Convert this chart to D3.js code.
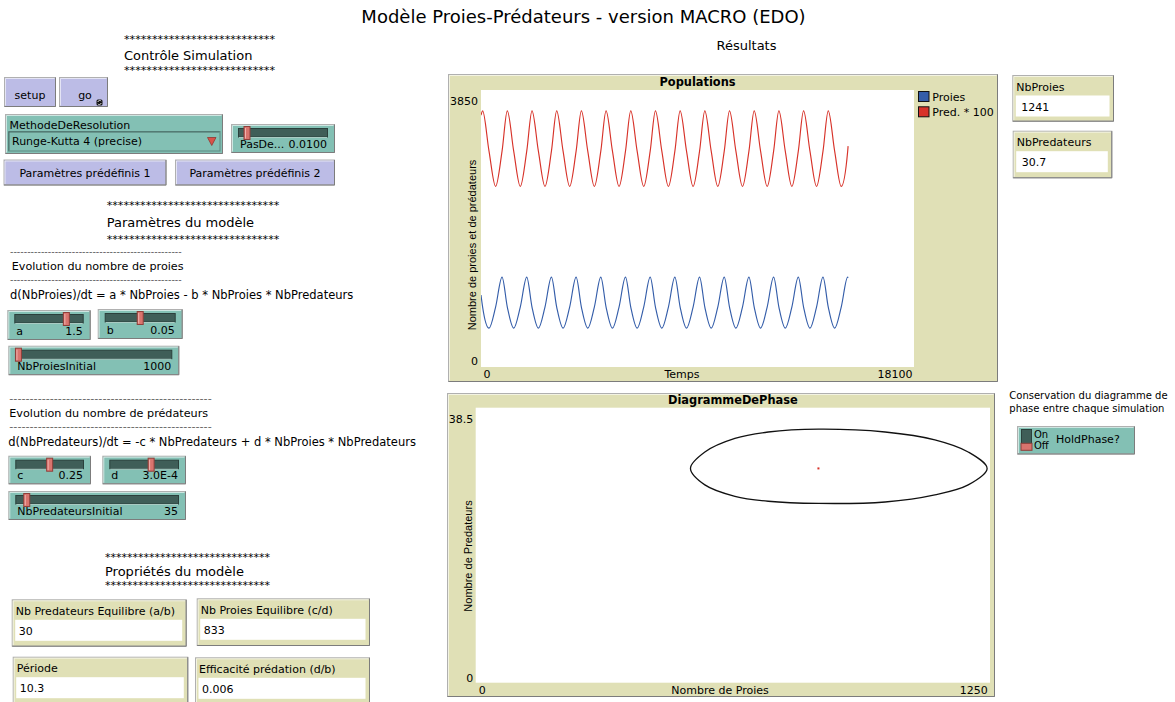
<!DOCTYPE html>
<html><head><meta charset="utf-8">
<script src="https://cdn.jsdelivr.net/npm/d3@7"></script>
<style>
body{margin:0;background:#fff;}
svg{display:block;font-family:"DejaVu Sans",sans-serif;}
</style>
</head><body>
<svg id="c" width="1175" height="702"></svg>
<script>
// ---------------- DATA ----------------
// Populations plot: time (ticks) of the readable turning points / crossings
const temps = [0, 68, 335, 610, 880, 1100, 1367, 1642, 1912, 2132, 2399, 2674, 2944,
  3164, 3431, 3706, 3976, 4196, 4463, 4738, 5008, 5228, 5495, 5770, 6040,
  6260, 6527, 6802, 7072, 7292, 7559, 7834, 8104, 8324, 8591, 8866, 9136,
  9356, 9623, 9898, 10168, 10388, 10655, 10930, 11200, 11420, 11687, 11962, 12232,
  12452, 12719, 12994, 13264, 13484, 13751, 14026, 14296, 14516, 14783, 15058, 15328, 15345];
const proies = [1000, 833, 540, 833, 1250, 833, 540, 833, 1250, 833, 540, 833, 1250,
  833, 540, 833, 1250, 833, 540, 833, 1250, 833, 540, 833, 1250,
  833, 540, 833, 1250, 833, 540, 833, 1250, 833, 540, 833, 1250,
  833, 540, 833, 1250, 833, 540, 833, 1250, 833, 540, 833, 1250,
  833, 540, 833, 1250, 833, 540, 833, 1250, 833, 540, 833, 1250, 1241];
const predX100 = [3500, 3560, 3000, 2510, 3000, 3560, 3000, 2510, 3000, 3560, 3000, 2510, 3000,
  3560, 3000, 2510, 3000, 3560, 3000, 2510, 3000, 3560, 3000, 2510, 3000,
  3560, 3000, 2510, 3000, 3560, 3000, 2510, 3000, 3560, 3000, 2510, 3000,
  3560, 3000, 2510, 3000, 3560, 3000, 2510, 3000, 3560, 3000, 2510, 3000,
  3560, 3000, 2510, 3000, 3560, 3000, 2510, 3000, 3560, 3000, 2510, 3000, 3070];
const legende = ["Proies", "Pred. * 100"];
const popXDomain = [0, 18100];
const popYDomain = [0, 3850];

// Phase diagram: points on the closed orbit (prey, predators)
const phaseProies = [522, 557, 630, 711, 833, 995, 1116, 1197, 1243, 1197, 1116, 995, 833, 711, 630, 557];
const phasePred   = [30.0, 32.3, 34.2, 35.1, 35.5, 35.1, 34.0, 32.3, 30.0, 27.7, 26.3, 25.3, 25.1, 25.4, 26.1, 27.7];
const equilibre = [833, 30];
const phaseXDomain = [0, 1250];
const phaseYDomain = [0, 38.5];

// Widgets
const monitorLabels = ["NbProies", "NbPredateurs", "Nb Predateurs Equilibre (a/b)", "Nb Proies Equilibre (c/d)", "Période", "Efficacité prédation (d/b)"];
const monitorValues = ["1241", "30.7", "30", "833", "10.3", "0.006"];
const sliderLabels = ["PasDe...", "a", "b", "NbProiesInitial", "c", "d", "NbPredateursInitial"];
const sliderTexts  = ["0.0100", "1.5", "0.05", "1000", "0.25", "3.0E-4", "35"];
const sliderValues = [0.01, 1.5, 0.05, 1000, 0.25, 0.0003, 35];
const sliderMax    = [0.1, 2, 0.1, 50000, 0.5, 0.0005, 500];

// ---------------- DRAWING ----------------
const svg = d3.select("#c");
const BEIGE = "#e0e0b6", TEAL = "#83c0b4", LAV = "#bcbce6";
const RED = "rgb(215,50,41)", BLUE = "rgb(52,93,169)";

function text(x, y, s, o = {}) {
  const t = svg.append("text").attr("x", x).attr("y", y).text(s)
    .attr("font-size", o.size || 11).attr("fill", o.fill || "#000");
  if (o.anchor) t.attr("text-anchor", o.anchor);
  if (o.weight) t.attr("font-weight", o.weight);
  if (o.family) t.attr("font-family", o.family);
  if (o.len) t.attr("textLength", o.len).attr("lengthAdjust", "spacingAndGlyphs");
  return t;
}
function frame(x, y, w, h, fill) {
  svg.append("rect").attr("x", x + 0.5).attr("y", y + 0.5).attr("width", w - 1).attr("height", h - 1)
    .attr("fill", fill).attr("stroke", "#b0b0b0");
  svg.append("path").attr("d", `M${x + 1.5},${y + h - 1.5}V${y + 1.5}H${x + w - 1.5}`)
    .attr("fill", "none").attr("stroke", "#fff").attr("stroke-opacity", 0.6);
  svg.append("path").attr("d", `M${x + w - 0.5},${y + 0.5}V${y + h - 0.5}H${x + 0.5}`)
    .attr("fill", "none").attr("stroke", "#7c7c7c");
}
function button(x, y, w, h, label, cx) {
  frame(x, y, w, h, LAV);
  text(cx !== undefined ? cx : x + w / 2, y + h - 8.5, label, { anchor: "middle" });
}
function slider(i, x, y, w, h) {
  frame(x, y, w, h, TEAL);
  const tx = x + 7, tw = w - 14;
  svg.append("rect").attr("x", tx + 0.5).attr("y", y + 4.5).attr("width", tw - 1).attr("height", 8.5)
    .attr("fill", "#3f5e58").attr("stroke", "#2b403c");
  svg.append("line").attr("x1", tx + 1).attr("x2", tx + tw - 1).attr("y1", y + 13.5).attr("y2", y + 13.5)
    .attr("stroke", "#a9cbc3");
  const cx = tx + (sliderValues[i] / sliderMax[i]) * tw;
  svg.append("rect").attr("x", cx - 3).attr("y", y + 2.5).attr("width", 6).attr("height", 13)
    .attr("fill", "#d9746e").attr("stroke", "#8f3f3a");
  svg.append("line").attr("x1", cx - 1.5).attr("x2", cx - 1.5).attr("y1", y + 4).attr("y2", y + 14.5)
    .attr("stroke", "#f0b1ad");
  text(x + 9, y + h - 5, sliderLabels[i]);
  text(x + w - 8, y + h - 5, sliderTexts[i], { anchor: "end" });
}
function monitor(i, x, y, w, h, vx) {
  frame(x, y, w, h, BEIGE);
  text(x + 4, y + 15.7, monitorLabels[i]);
  svg.append("rect").attr("x", x + 3.5).attr("y", y + 20.5).attr("width", w - 8).attr("height", 21).attr("fill", "#fff");
  text(x + (vx || 7), y + 35.5, monitorValues[i]);
}

// Title
text(583.5, 23, "Modèle Proies-Prédateurs - version MACRO (EDO)", { size: 18, anchor: "middle" });
text(746.5, 49.5, "Résultats", { size: 13, anchor: "middle" });

// Left panel – control
const stars = n => "*".repeat(n);
text(124, 42.5, stars(27), { size: 11, len: 151 });
text(124, 59.5, "Contrôle Simulation", { size: 13 });
text(124, 73.5, stars(27), { size: 11, len: 151 });

button(4, 77, 52, 30, "setup");
button(59, 77, 49, 30, "go", 85);
// forever icon
svg.append("rect").attr("x", 96.5).attr("y", 99.5).attr("width", 6).attr("height", 6).attr("rx", 1.5).attr("fill", "#111");
svg.append("path").attr("d", "M97.8,102 A1.9,1.9 0 0 1 101.2,101.2 M101.2,103 A1.9,1.9 0 0 1 97.8,103.8")
  .attr("fill", "none").attr("stroke", "#fff").attr("stroke-width", 0.8);

// chooser
frame(5, 114, 218, 40, TEAL);
text(9.5, 128.5, "MethodeDeResolution");
svg.append("rect").attr("x", 8.5).attr("y", 131.5).attr("width", 211.5).attr("height", 19.5).attr("fill", TEAL)
  .attr("stroke", "#5d8a81");
svg.append("path").attr("d", "M9,150.5V132H219.5").attr("fill", "none").attr("stroke", "#4a6d66");
text(12, 145, "Runge-Kutta 4 (precise)");
svg.append("path").attr("d", "M207.5,137.5H216L211.75,145.5Z").attr("fill", "#d9534a").attr("stroke", "#8a2d27").attr("stroke-width", 0.7);

slider(0, 231, 124, 104, 29);

button(3.5, 159.5, 163, 26, "Paramètres prédéfinis 1");
button(175, 159.5, 160, 26, "Paramètres prédéfinis 2");

// Parameters
text(106.7, 209, stars(31), { size: 11, len: 172.6 });
text(106.7, 227, "Paramètres du modèle", { size: 13 });
text(106.7, 242.5, stars(31), { size: 11, len: 172.6 });

const dashes = "-".repeat(50);
text(10, 254.5, dashes, { size: 8, len: 171.7, fill: "#444" });
text(11.7, 269.7, "Evolution du nombre de proies", { size: 11.2 });
text(10, 282.5, dashes, { size: 8, len: 171.7, fill: "#444" });
text(10, 298.5, "d(NbProies)/dt = a * NbProies - b * NbProies * NbPredateurs", { size: 11.5 });

slider(1, 7.3, 310, 83.4, 30);
slider(2, 97.7, 309, 85, 30);
slider(3, 8.3, 345.7, 171, 29.5);

text(9.3, 402, dashes, { size: 8, len: 202.4, fill: "#444" });
text(9.3, 417.3, "Evolution du nombre de prédateurs", { size: 11.2 });
text(9.3, 430, dashes, { size: 8, len: 202.4, fill: "#444" });
text(8.3, 446, "d(NbPredateurs)/dt = -c * NbPredateurs + d * NbProies * NbPredateurs", { size: 11.5 });

slider(4, 8.3, 455.7, 82.7, 28.6);
slider(5, 102.3, 455.7, 83.7, 28.6);
slider(6, 8.3, 491, 177.7, 29);

// Properties
text(105, 560.8, stars(30), { size: 11, len: 165 });
text(105, 576.2, "Propriétés du modèle", { size: 13 });
text(105, 589, stars(30), { size: 11, len: 165 });

monitor(2, 11.7, 599.3, 175, 47.4);
monitor(3, 196.7, 598.3, 173.3, 47.7);
monitor(4, 12.7, 656.7, 175.6, 50);
monitor(5, 195, 657.3, 175, 50);

// Right monitors
monitor(0, 1012.3, 75, 101.7, 46.7, 9);
monitor(1, 1012.7, 130.7, 99.6, 47.6, 9);

// ---------- Populations plot ----------
frame(448, 74, 550, 308, BEIGE);
const P = { l: 481, t: 90, r: 914, b: 367 };
svg.append("rect").attr("x", P.l).attr("y", P.t).attr("width", P.r - P.l).attr("height", P.b - P.t).attr("fill", "#fff");
text((P.l + P.r) / 2, 85.7, "Populations", { size: 11.4, weight: "bold", anchor: "middle" });

const x1 = d3.scaleLinear().domain(popXDomain).range([P.l, P.r]);
const y1 = d3.scaleLinear().domain(popYDomain).range([P.b, P.t]);

svg.append("clipPath").attr("id", "clipPop").append("rect")
  .attr("x", P.l).attr("y", P.t).attr("width", P.r - P.l).attr("height", P.b - P.t);
const linePop = vals => d3.line().curve(d3.curveMonotoneX)
  .x((d, i) => x1(temps[i])).y(d => y1(d))(vals);
svg.append("path").attr("d", linePop(proies)).attr("fill", "none").attr("stroke", BLUE)
  .attr("stroke-width", 1.15).attr("clip-path", "url(#clipPop)");
svg.append("path").attr("d", linePop(predX100)).attr("fill", "none").attr("stroke", RED)
  .attr("stroke-width", 1.15).attr("clip-path", "url(#clipPop)");

function styleAxis(g) {
  g.select(".domain").remove();
  g.selectAll("text").attr("font-family", '"DejaVu Sans", sans-serif').attr("font-size", 11).attr("fill", "#000");
}
svg.append("g").attr("transform", `translate(${P.l},0)`)
  .call(d3.axisLeft(y1).tickValues(popYDomain).tickSize(0).tickPadding(3).tickFormat(d => d))
  .call(styleAxis)
  .call(g => g.selectAll("text").attr("dy", d => d === popYDomain[1] ? 14 : -2.5));
svg.append("g").attr("transform", `translate(0,${P.b})`)
  .call(d3.axisBottom(x1).tickValues(popXDomain).tickSize(0).tickPadding(3).tickFormat(d => d))
  .call(styleAxis)
  .call(g => g.selectAll("text")
    .attr("text-anchor", d => d === popXDomain[0] ? "start" : "end")
    .attr("dx", d => d === popXDomain[0] ? 2 : -2));
text(682, 378, "Temps", { anchor: "middle" });
svg.append("text").attr("transform", "translate(476,245) rotate(-90)").attr("text-anchor", "middle")
  .attr("font-family", '"Liberation Sans", sans-serif').attr("font-size", 11)
  .text("Nombre de proies et de prédateurs");

// legend
[BLUE, RED].forEach((c, i) => {
  svg.append("rect").attr("x", 918.5).attr("y", 91.5 + i * 15.3).attr("width", 10.5).attr("height", 10)
    .attr("fill", c).attr("stroke", "#111");
  text(932.3, 100.5 + i * 15.5, legende[i]);
});

// ---------- Phase diagram ----------
frame(447, 393, 548, 304, BEIGE);
const Q = { l: 475.7, t: 407.7, r: 990, b: 682.7 };
svg.append("rect").attr("x", Q.l).attr("y", Q.t).attr("width", Q.r - Q.l).attr("height", Q.b - Q.t).attr("fill", "#fff");
text((Q.l + Q.r) / 2, 404, "DiagrammeDePhase", { size: 11.4, weight: "bold", anchor: "middle" });

const x2 = d3.scaleLinear().domain(phaseXDomain).range([Q.l, Q.r]);
const y2 = d3.scaleLinear().domain(phaseYDomain).range([Q.b, Q.t]);
const orbit = phaseProies.map((p, i) => [x2(p), y2(phasePred[i])]);
svg.append("path").attr("d", d3.line().curve(d3.curveCatmullRomClosed.alpha(0.5))(orbit))
  .attr("fill", "none").attr("stroke", "#111").attr("stroke-width", 1.3);
svg.append("rect").attr("x", x2(equilibre[0]) - 1).attr("y", y2(equilibre[1]) - 1)
  .attr("width", 2).attr("height", 2).attr("fill", RED);

svg.append("g").attr("transform", `translate(${Q.l},0)`)
  .call(d3.axisLeft(y2).tickValues(phaseYDomain).tickSize(0).tickPadding(2.5).tickFormat(d => d))
  .call(styleAxis)
  .call(g => g.selectAll("text").attr("dy", d => d === phaseYDomain[1] ? 14.8 : -1.7));
svg.append("g").attr("transform", `translate(0,${Q.b})`)
  .call(d3.axisBottom(x2).tickValues(phaseXDomain).tickSize(0).tickPadding(3.5).tickFormat(d => d))
  .call(styleAxis)
  .call(g => g.selectAll("text")
    .attr("text-anchor", d => d === phaseXDomain[0] ? "start" : "end")
    .attr("dx", d => d === phaseXDomain[0] ? 2.6 : -2.7));
text(720, 694, "Nombre de Proies", { anchor: "middle" });
svg.append("text").attr("transform", "translate(471.7,556) rotate(-90)").attr("text-anchor", "middle")
  .attr("font-family", '"Liberation Sans", sans-serif').attr("font-size", 11)
  .text("Nombre de Predateurs");

// ---------- HoldPhase switch ----------
text(1009.3, 398.5, "Conservation du diagramme de", { size: 10 });
text(1009.3, 412, "phase entre chaque simulation", { size: 10 });
frame(1017, 426, 118, 28.5, TEAL);
svg.append("rect").attr("x", 1021.5).attr("y", 429.5).attr("width", 10).attr("height", 14).attr("fill", "#3f5e58").attr("stroke", "#2b403c");
svg.append("rect").attr("x", 1021).attr("y", 443.3).attr("width", 11).attr("height", 7).attr("fill", "#d9746e").attr("stroke", "#8f3f3a");
text(1034, 437.5, "On", { size: 10 });
text(1034, 449, "Off", { size: 10 });
text(1056, 442.5, "HoldPhase?");
</script>
</body></html>
